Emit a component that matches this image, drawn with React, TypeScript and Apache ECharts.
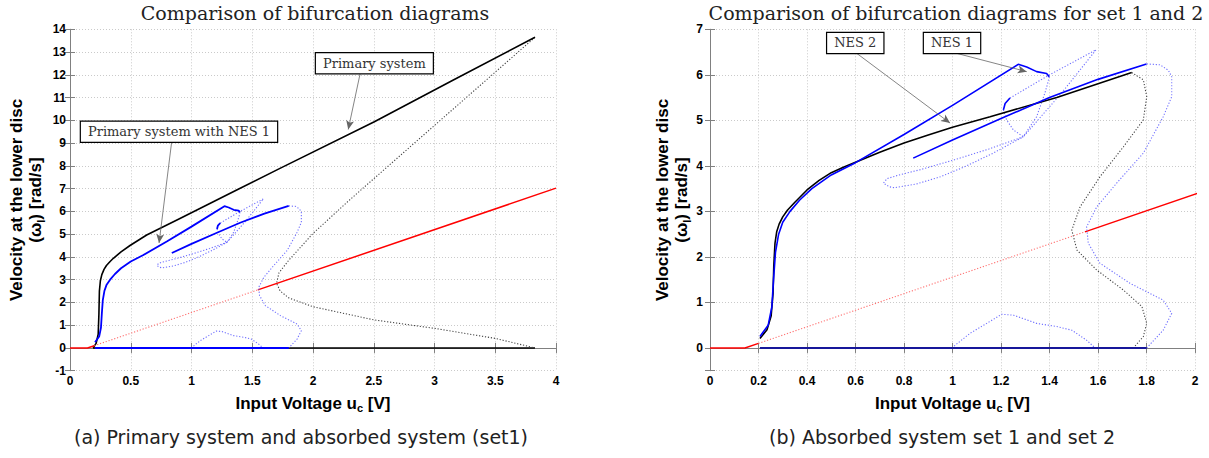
import React, { useEffect, useRef } from 'react';
import * as echarts from 'echarts';

type P = [number, number];

// ---------- shared reference line (red) ----------
const redLow: P[] = [[0, 0], [0.144, 0], [0.2, 0.1]];
const redDotted: P[] = [[0.2, 0.1], [1.546, 2.55]];
const redHigh: P[] = [[1.546, 2.55], [4, 7.02]];

// ---------- primary system (black, left plot) ----------
const primaryStable: P[] = [
  [0.19, 0.0], [0.215, 0.2], [0.232, 0.6], [0.238, 1.5], [0.242, 2.5], [0.25, 2.95],
  [0.262, 3.22], [0.28, 3.45], [0.3, 3.62], [0.33, 3.8], [0.357, 3.94], [0.42, 4.22],
  [0.494, 4.5], [0.631, 4.96], [0.905, 5.69], [1.372, 6.94], [1.728, 7.89], [2.505, 9.94],
  [3.155, 11.77], [3.827, 13.65],
];
const primaryUnstable: P[] = [
  [3.827, 13.65], [2.29, 6.45], [2.0, 5.03], [1.8, 3.85], [1.72, 3.3], [1.7, 2.84],
  [1.73, 2.5], [1.8, 2.2], [2.0, 1.81], [2.505, 1.23], [3.0, 0.86], [3.5, 0.42], [3.827, 0],
];
const primaryZero: P[] = [[0.19, 0], [3.827, 0]];

// ---------- NES 1 (blue, both plots) ----------
const nes1Upper: P[] = [
  [0.206, 0.25], [0.24, 0.5], [0.255, 0.9], [0.262, 1.5], [0.27, 2.1], [0.283, 2.5],
  [0.3, 2.76], [0.33, 3.0], [0.37, 3.25], [0.42, 3.5], [0.5, 3.8], [0.6, 4.07],
  [0.8, 4.69], [1.0, 5.33], [1.271, 6.23], [1.306, 6.17], [1.347, 6.07], [1.388, 6.03], [1.399, 5.96],
];
const nes1Lower: P[] = [[0.838, 4.17], [1.0, 4.57], [1.2, 5.04], [1.4, 5.5], [1.6, 5.9], [1.8, 6.24]];
const nes1Hook: P[] = [[1.21, 5.23], [1.217, 5.37], [1.237, 5.49]];
const nes1Zero: P[] = [[0.206, 0], [1.801, 0]];
const nes1KinkDown: P[] = [[1.399, 5.96], [1.392, 5.8], [1.381, 5.6], [1.347, 5.08], [1.292, 4.64]];
const nes1Triangle: P[] = [[1.237, 5.49], [1.4, 6.0], [1.592, 6.55], [1.45, 5.6], [1.292, 4.64]];
const nes1HookDown: P[] = [[1.21, 5.23], [1.223, 5.01], [1.251, 4.79], [1.292, 4.64]];
const nes1Loop: P[] = [
  [1.292, 4.64], [1.15, 4.37], [1.0, 4.12], [0.87, 3.92], [0.78, 3.8], [0.73, 3.72],
  [0.715, 3.62], [0.74, 3.54], [0.76, 3.52], [0.85, 3.6], [0.95, 3.76], [1.05, 3.98],
  [1.168, 4.28], [1.292, 4.64],
];
const nes1RightUnstable: P[] = [
  [1.801, 6.24], [1.856, 6.22], [1.89, 6.1], [1.904, 5.96], [1.904, 5.52], [1.869, 5.08],
  [1.787, 4.28], [1.677, 3.62], [1.595, 3.1], [1.553, 2.66], [1.56, 2.3], [1.608, 1.86],
  [1.732, 1.42], [1.869, 1.05], [1.904, 0.76], [1.869, 0.39], [1.801, 0.0],
];
const nes1Bump: P[] = [
  [0.997, 0.0], [1.072, 0.32], [1.141, 0.54], [1.203, 0.74], [1.251, 0.72], [1.347, 0.54],
  [1.43, 0.47], [1.492, 0.39], [1.553, 0.17], [1.588, 0.0],
];

// ---------- NES 2 (black, right plot) ----------
const nes2Stable: P[] = [
  [0.206, 0.21], [0.235, 0.4], [0.252, 0.7], [0.26, 1.2], [0.263, 1.8], [0.268, 2.3],
  [0.275, 2.55], [0.285, 2.72], [0.3, 2.88], [0.32, 3.03], [0.35, 3.2], [0.4, 3.47],
  [0.45, 3.68], [0.5, 3.85], [0.55, 3.97], [0.6, 4.08], [0.7, 4.3], [0.8, 4.5],
  [0.9, 4.68], [1.0, 4.85], [1.155, 5.08], [1.43, 5.5], [1.739, 6.05],
];
const nes2Unstable: P[] = [
  [1.739, 6.05], [1.787, 5.89], [1.801, 5.52], [1.787, 5.01], [1.705, 4.42], [1.608, 3.76],
  [1.526, 3.1], [1.492, 2.59], [1.513, 2.15], [1.595, 1.71], [1.705, 1.27], [1.781, 0.91],
  [1.801, 0.54], [1.787, 0.25], [1.746, 0.0],
];
const nes2Zero: P[] = [[0.206, 0], [1.746, 0]];

// ---------- annotations (box centre, arrow start, arrow tip) ----------
const leftBoxes = [
  { text: 'Primary system with NES 1', at: [0.897, 9.5] as P, from: [0.836, 9.02] as P, to: [0.733, 4.61] as P },
  { text: 'Primary system', at: [2.505, 12.51] as P, from: [2.387, 12.03] as P, to: [2.29, 9.6] as P },
];
const rightBoxes = [
  { text: 'NES 2', at: [0.599, 6.7] as P, from: [0.598, 6.5] as P, to: [0.99, 4.94] as P },
  { text: 'NES 1', at: [0.998, 6.7] as P, from: [0.997, 6.5] as P, to: [1.306, 6.07] as P },
];

const titleLeft = 'Comparison of bifurcation diagrams';
const titleRight = 'Comparison of bifurcation diagrams for set 1 and 2';
const captionLeft = '(a) Primary system and absorbed system (set1)';
const captionRight = '(b) Absorbed system set 1 and set 2';

const BLUE = '#0000ff';
const BLUE_DOT = '#6f6fff';
const BLACK = '#000000';
const BLACK_DOT = '#444444';
const RED = '#ff0000';
const RED_DOT = '#ff7070';
const SANS = 'Liberation Sans, Arial, sans-serif';
const SERIF = 'DejaVu Serif, serif';

function line(data: P[], gi: number, color: string, width: number, dotted: boolean, z = 2): any {
  return {
    type: 'line',
    data,
    xAxisIndex: gi,
    yAxisIndex: gi,
    showSymbol: false,
    symbol: 'none',
    silent: true,
    z,
    lineStyle: { color, width, type: dotted ? [1.2, 1.8] : 'solid', cap: 'butt' },
  };
}

function annot(gi: number, boxes: typeof leftBoxes): any {
  return {
    type: 'line',
    data: [],
    xAxisIndex: gi,
    yAxisIndex: gi,
    silent: true,
    z: 10,
    markLine: {
      silent: true,
      symbol: ['none', 'arrow'],
      symbolSize: [6, 9],
      label: { show: false },
      lineStyle: { color: '#666', width: 0.8, type: 'solid' },
      data: boxes.map((b) => [{ coord: b.from }, { coord: b.to }]),
    },
    markPoint: {
      silent: true,
      symbol: 'circle',
      symbolSize: 1,
      itemStyle: { color: 'rgba(0,0,0,0)' },
      label: {
        show: true,
        position: 'inside',
        color: '#333',
        fontFamily: SERIF,
        fontSize: 13,
        backgroundColor: '#fff',
        borderColor: '#000',
        borderWidth: 1.2,
        padding: [4, 7, 3, 7],
      },
      data: boxes.map((b) => ({
        coord: b.at,
        label: { formatter: b.text },
      })),
    },
  };
}

const axisLabelStyle = { color: '#000', fontFamily: SANS, fontWeight: 'bold' as const, fontSize: 12 };
const gridLine = { show: true, lineStyle: { color: '#bdbdbd', type: [1, 2], width: 0.8 } };
const axisLineStyle = { show: true, lineStyle: { color: '#808080', width: 1 } };
const tickStyle = { show: true, inside: true, length: 5, lineStyle: { color: '#808080' } };

const yName = '{b|Velocity at the lower disc}\n{b|(ω}{s|l}{b|) [rad/s]}';
const xName = '{b|Input Voltage u}{s|c}{b| [V]}';
const nameRich = {
  b: { fontSize: 17, fontWeight: 'bold', fontFamily: SANS, color: '#000', lineHeight: 19, verticalAlign: 'top' },
  s: { fontSize: 11, fontWeight: 'bold', fontFamily: SANS, color: '#000', lineHeight: 11, verticalAlign: 'bottom', padding: [11, 0, 0, 0] },
};

export default function App() {
  const ref = useRef<HTMLDivElement>(null);
  useEffect(() => {
    document.body.style.margin = '0';
    const chart = echarts.init(ref.current!, null, { renderer: 'svg' });
    const option: any = {
      animation: false,
      backgroundColor: '#fff',
      grid: [
        { left: 70, top: 29.3, width: 486, height: 341.4 },
        { left: 710, top: 29.3, width: 485, height: 341.4 },
      ],
      xAxis: [
        {
          gridIndex: 0, type: 'value', min: 0, max: 4, interval: 0.5,
          axisLine: axisLineStyle, axisTick: tickStyle, splitLine: gridLine,
          axisLabel: { ...axisLabelStyle, margin: 4 },
          name: xName, nameLocation: 'middle', nameGap: 13, nameTextStyle: { rich: nameRich },
        },
        {
          gridIndex: 1, type: 'value', min: 0, max: 2, interval: 0.2,
          axisLine: axisLineStyle, axisTick: tickStyle, splitLine: gridLine,
          axisLabel: { ...axisLabelStyle, margin: 4 },
          name: xName, nameLocation: 'middle', nameGap: 13, nameTextStyle: { rich: nameRich },
        },
        {
          gridIndex: 0, type: 'value', position: 'top', min: 0, max: 4, interval: 0.5,
          axisLine: axisLineStyle, axisTick: tickStyle, splitLine: { show: false }, axisLabel: { show: false },
        },
        {
          gridIndex: 1, type: 'value', position: 'top', min: 0, max: 2, interval: 0.2,
          axisLine: axisLineStyle, axisTick: tickStyle, splitLine: { show: false }, axisLabel: { show: false },
        },
      ],
      yAxis: [
        {
          gridIndex: 0, type: 'value', min: -1, max: 14, interval: 1,
          axisLine: axisLineStyle, axisTick: tickStyle, splitLine: gridLine,
          axisLabel: { ...axisLabelStyle, margin: 4 },
          name: yName, nameLocation: 'middle', nameGap: 24, nameRotate: 90, nameTextStyle: { rich: nameRich },
        },
        {
          gridIndex: 1, type: 'value', min: -0.5, max: 7, minInterval: 1, maxInterval: 1, splitNumber: 8,
          axisLine: axisLineStyle, axisTick: tickStyle, splitLine: gridLine,
          axisLabel: { ...axisLabelStyle, margin: 7, formatter: (v: number) => (v < 0 ? '' : String(v)) },
          name: yName, nameLocation: 'middle', nameGap: 18, nameRotate: 90, nameTextStyle: { rich: nameRich },
        },
        {
          gridIndex: 0, type: 'value', position: 'right', min: -1, max: 14, interval: 1,
          axisLine: axisLineStyle, axisTick: tickStyle, splitLine: { show: false }, axisLabel: { show: false },
        },
        {
          gridIndex: 1, type: 'value', position: 'right', min: -0.5, max: 7, minInterval: 1, maxInterval: 1, splitNumber: 8,
          axisLine: axisLineStyle, axisTick: tickStyle, splitLine: { show: false }, axisLabel: { show: false },
        },
      ],
      graphic: [
        { type: 'text', x: 315, y: 13, style: { text: titleLeft, font: `19px ${SERIF}`, fill: '#222', align: 'center', verticalAlign: 'middle' } },
        { type: 'text', x: 956, y: 13, style: { text: titleRight, font: `19px ${SERIF}`, fill: '#222', align: 'center', verticalAlign: 'middle' } },
        { type: 'text', x: 301, y: 437, style: { text: captionLeft, font: '19px DejaVu Sans, sans-serif', fill: '#222', align: 'center', verticalAlign: 'middle' } },
        { type: 'text', x: 942, y: 437, style: { text: captionRight, font: '19px DejaVu Sans, sans-serif', fill: '#222', align: 'center', verticalAlign: 'middle' } },
      ],
      series: [
        // left plot
        line(primaryZero, 0, BLACK, 1.5, false),
        line(primaryUnstable, 0, BLACK_DOT, 1.1, true),
        line(primaryStable, 0, BLACK, 1.6, false),
        line(redLow, 0, RED, 1.5, false),
        line(redDotted, 0, RED_DOT, 1.1, true),
        line(redHigh, 0, RED, 1.5, false),
        line(nes1Zero, 0, BLUE, 2, false, 3),
        line(nes1KinkDown, 0, BLUE_DOT, 1.1, true),
        line(nes1Triangle, 0, BLUE_DOT, 1.1, true),
        line(nes1HookDown, 0, BLUE_DOT, 1.1, true),
        line(nes1Loop, 0, BLUE_DOT, 1.1, true),
        line(nes1RightUnstable, 0, BLUE_DOT, 1.1, true),
        line(nes1Bump, 0, BLUE_DOT, 1.1, true),
        line(nes1Upper, 0, BLUE, 1.8, false, 3),
        line(nes1Lower, 0, BLUE, 1.8, false, 3),
        line(nes1Hook, 0, BLUE, 1.8, false, 3),
        annot(0, leftBoxes),
        // right plot
        line(redLow, 1, RED, 1.5, false),
        line(redDotted, 1, RED_DOT, 1.1, true),
        line(redHigh, 1, RED, 1.5, false),
        line(nes2Zero, 1, BLACK, 2, false),
        line(nes1Zero, 1, '#16169a', 2, false, 3),
        line(nes2Unstable, 1, BLACK_DOT, 1.1, true),
        line(nes1KinkDown, 1, BLUE_DOT, 1.1, true),
        line(nes1Triangle, 1, BLUE_DOT, 1.1, true),
        line(nes1HookDown, 1, BLUE_DOT, 1.1, true),
        line(nes1Loop, 1, BLUE_DOT, 1.1, true),
        line(nes1RightUnstable, 1, BLUE_DOT, 1.1, true),
        line(nes1Bump, 1, BLUE_DOT, 1.1, true),
        line(nes2Stable, 1, BLACK, 1.6, false, 3),
        line(nes1Upper, 1, BLUE, 1.6, false, 4),
        line(nes1Lower, 1, BLUE, 1.6, false, 4),
        line(nes1Hook, 1, BLUE, 1.6, false, 4),
        annot(1, rightBoxes),
      ],
    };
    chart.setOption(option);
    return () => chart.dispose();
  }, []);
  return <div ref={ref} style={{ position: 'absolute', left: 0, top: 0, width: 1209, height: 458 }} />;
}
